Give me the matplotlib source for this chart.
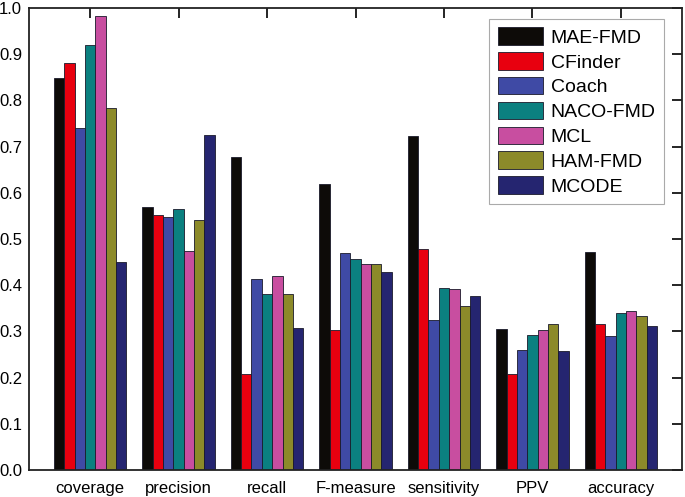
import numpy as np
import matplotlib.pyplot as plt

plt.rcParams['font.family'] = ['Liberation Sans', 'DejaVu Sans']

categories = ["coverage", "precision", "recall", "F-measure", "sensitivity", "PPV", "accuracy"]
methods = ["MAE-FMD", "CFinder", "Coach", "NACO-FMD", "MCL", "HAM-FMD", "MCODE"]
colors = ["#0d0b08", "#e8000f", "#3f4aa5", "#0b8080", "#c84ea0", "#8c8a2a", "#252570"]

mae_fmd = [0.849, 0.570, 0.678, 0.619, 0.723, 0.306, 0.471]
cfinder = [0.880, 0.552, 0.207, 0.302, 0.478, 0.207, 0.315]
coach = [0.741, 0.548, 0.413, 0.470, 0.325, 0.260, 0.289]
naco_fmd = [0.920, 0.566, 0.382, 0.457, 0.395, 0.292, 0.340]
mcl = [0.983, 0.474, 0.420, 0.446, 0.391, 0.302, 0.344]
ham_fmd = [0.784, 0.541, 0.381, 0.446, 0.354, 0.315, 0.334]
mcode = [0.451, 0.725, 0.307, 0.429, 0.377, 0.258, 0.312]

series = [mae_fmd, cfinder, coach, naco_fmd, mcl, ham_fmd, mcode]

fig = plt.figure(figsize=(6.85, 4.97), dpi=100)
ax = fig.add_axes([29 / 685, 27 / 497, 653 / 685, 462 / 497])

x = np.arange(len(categories))
w = 0.117
for i, (vals, name, c) in enumerate(zip(series, methods, colors)):
    ax.bar(x + (i - 3) * w, vals, w, color=c, edgecolor="#1a1a2a", linewidth=0.6, label=name)

ax.set_xlim(-0.69, 6.69)
ax.set_ylim(0, 1.0)
ax.set_yticks(np.arange(0, 1.01, 0.1))
ax.set_yticklabels([f"{v:.1f}" for v in np.arange(0, 1.01, 0.1)])
ax.set_xticks(x)
ax.set_xticklabels(categories)

for s in ax.spines.values():
    s.set_linewidth(1.3)
    s.set_color("#222222")

ax.tick_params(axis="y", left=False, right=True, direction="in", length=7, width=1.2,
               labelsize=12, pad=5)
ax.tick_params(axis="x", bottom=False, top=True, direction="in", length=7, width=1.2,
               labelsize=12, pad=8)

leg = ax.legend(loc="upper right", bbox_to_anchor=(0.973, 0.977), fontsize=14,
                handlelength=2.3, handleheight=1.0, handletextpad=0.4,
                labelspacing=0.28, borderpad=0.45, borderaxespad=0, fancybox=False,
                framealpha=1)
leg.get_frame().set_edgecolor("#aaaaaa")
leg.get_frame().set_linewidth(0.8)

fig.savefig("out.png", dpi=100)
